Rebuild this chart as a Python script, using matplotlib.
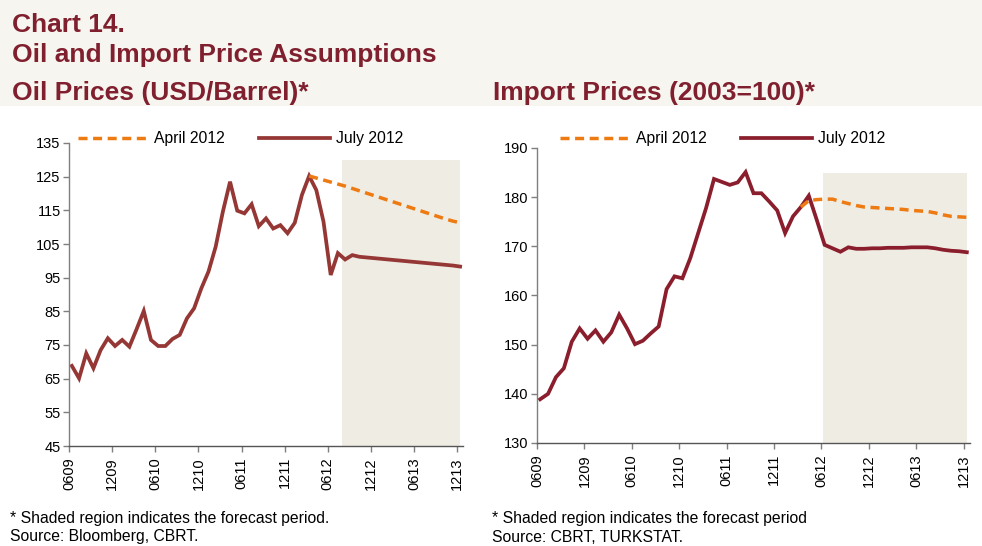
import numpy as np
import matplotlib
matplotlib.use("Agg")
import matplotlib.pyplot as plt
from matplotlib.patches import Rectangle

plt.rcParams['font.family'] = ['Liberation Sans', 'DejaVu Sans']

# ---------------- data ----------------
tick_labels = ["0609", "1209", "0610", "1210", "0611", "1211", "0612", "1212", "0613", "1213"]

oil_july = [68.8, 65.1, 72.5, 68.1, 73.5, 77.0, 74.7,
            76.5, 74.5, 79.7, 85.1, 76.5, 74.7, 74.7, 76.8, 78.0, 82.9, 85.9, 91.8,
            96.8, 104.2, 114.6, 123.5, 114.9, 114.1, 116.8, 110.3, 112.6, 109.6, 110.6, 108.2,
            111.3, 119.6, 125.2, 121.0, 111.6, 95.8, 102.3, 100.4, 101.7, 101.2, 101.0, 100.8,
            100.6, 100.4, 100.2, 100.0, 99.8, 99.6, 99.4, 99.2, 99.0, 98.8, 98.6, 98.3]
oil_april = [125.2, 124.6, 124.0, 123.4, 122.8, 122.2, 121.5, 120.8, 120.1, 119.4, 118.7,
             118.0, 117.3, 116.6, 115.9, 115.2, 114.5, 113.8, 113.1, 112.4, 111.8, 111.3]

imp_july = [138.9, 140.0, 143.4, 145.2, 150.6, 153.3, 151.2,
            152.9, 150.6, 152.5, 156.1, 153.3, 150.1, 150.8, 152.3, 153.7, 161.3, 163.9, 163.5,
            167.6, 172.7, 177.8, 183.7, 183.1, 182.5, 183.0, 185.1, 180.8, 180.8, 179.1, 177.3,
            172.7, 176.1, 178.0, 180.3, 175.4, 170.3, 169.6, 168.9, 169.8, 169.5, 169.5, 169.6,
            169.6, 169.7, 169.7, 169.7, 169.8, 169.8, 169.8, 169.6, 169.3, 169.1, 169.0, 168.8]
imp_april = [178.0, 179.3, 179.5, 179.6, 179.6, 179.1, 178.7, 178.3, 178.0, 177.9, 177.8,
             177.7, 177.6, 177.5, 177.3, 177.2, 177.1, 176.8, 176.4, 176.1, 176.0, 175.9]

april_start = 33          # month index (Mar 2012) where April 2012 path starts
oil_forecast = (37.6, 54.0, 130)   # shaded span start, end, top
imp_forecast = (35.8, 54.0, 185)

# ---------------- style ----------------
W, H = 982, 546
fig = plt.figure(figsize=(W / 100, H / 100), dpi=100)
fig.patch.set_facecolor("white")
fig.add_artist(Rectangle((0, 1 - 106 / H), 1, 106 / H, transform=fig.transFigure,
                         facecolor="#F7F5F0", edgecolor="none", zorder=0))

title_c = "#80202F"
orange = "#EE7A12"
shade = "#EFECE4"
axis_c = "#7F7F7F"


def fx(px):
    return px / W


def fy(py):
    return 1 - py / H


tfs = 19
fig.text(fx(12), fy(32), "Chart 14.", fontsize=tfs, fontweight="bold", color=title_c, va="baseline")
fig.text(fx(12), fy(62), "Oil and Import Price Assumptions", fontsize=tfs, fontweight="bold",
         color=title_c, va="baseline")
fig.text(fx(12), fy(100), "Oil Prices (USD/Barrel)*", fontsize=tfs, fontweight="bold",
         color=title_c, va="baseline")
fig.text(fx(493), fy(100), "Import Prices (2003=100)*", fontsize=tfs, fontweight="bold",
         color=title_c, va="baseline")

nfs = 11.3
fig.text(fx(10), fy(519), "* Shaded region indicates the forecast period.", fontsize=nfs,
         va="center", color="black")
fig.text(fx(10), fy(537), "Source: Bloomberg, CBRT.", fontsize=nfs, va="center", color="black")
fig.text(fx(492), fy(519), "* Shaded region indicates the forecast period", fontsize=nfs,
         va="center", color="black")
fig.text(fx(492), fy(537), "Source: CBRT, TURKSTAT.", fontsize=nfs, va="center", color="black")


def make_panel(rect_px, ylim, yticks, july, april, fc, july_color, legend_px):
    l, t, r, b = rect_px
    ax = fig.add_axes([fx(l), fy(b), (r - l) / W, (b - t) / H])
    ax.set_facecolor("none")
    n = len(july)
    x = np.arange(n)
    xa = np.arange(april_start, april_start + len(april))
    ax.fill_between([fc[0], fc[1]], ylim[0], fc[2], color=shade, lw=0, zorder=0)
    la, = ax.plot(xa, april, color=orange, lw=2.5, ls=(0, (2.6, 1.6)), zorder=3,
                  solid_capstyle="butt", dash_capstyle="butt")
    lj, = ax.plot(x, july, color=july_color, lw=2.7, zorder=2, solid_joinstyle="miter")
    ax.set_xlim(-0.4, 54.4)
    ax.set_ylim(*ylim)
    ax.set_yticks(yticks)
    ax.set_xticks(np.arange(0, 55, 6) - 0.4)
    ax.set_xticklabels(tick_labels, rotation=90)
    for s in ["top", "right"]:
        ax.spines[s].set_visible(False)
    for s in ["left", "bottom"]:
        ax.spines[s].set_color(axis_c)
        ax.spines[s].set_linewidth(1.0)
    ax.spines["bottom"].set_color("#555555")
    ax.tick_params(axis="both", direction="out", length=4, width=1, color=axis_c,
                   labelsize=10.5, labelcolor="black", pad=2)
    ax.tick_params(axis="x", pad=4)
    fig.legend([la, lj], ["April 2012", "July 2012"], ncol=2, frameon=False,
               loc="center left", bbox_to_anchor=(fx(legend_px[0]), fy(legend_px[1])),
               bbox_transform=fig.transFigure, borderpad=0, borderaxespad=0,
               handlelength=4.5, handletextpad=0.35, columnspacing=2.2, fontsize=11.3)
    return ax


make_panel((69, 143, 463, 446), (45, 135), np.arange(45, 136, 10), oil_july, oil_april,
           oil_forecast, "#953735", (78, 139))
make_panel((537, 148, 970, 443), (130, 190), np.arange(130, 191, 10), imp_july, imp_april,
           imp_forecast, "#8B1E2D", (560, 139))

fig.savefig("out.png", dpi=100)
